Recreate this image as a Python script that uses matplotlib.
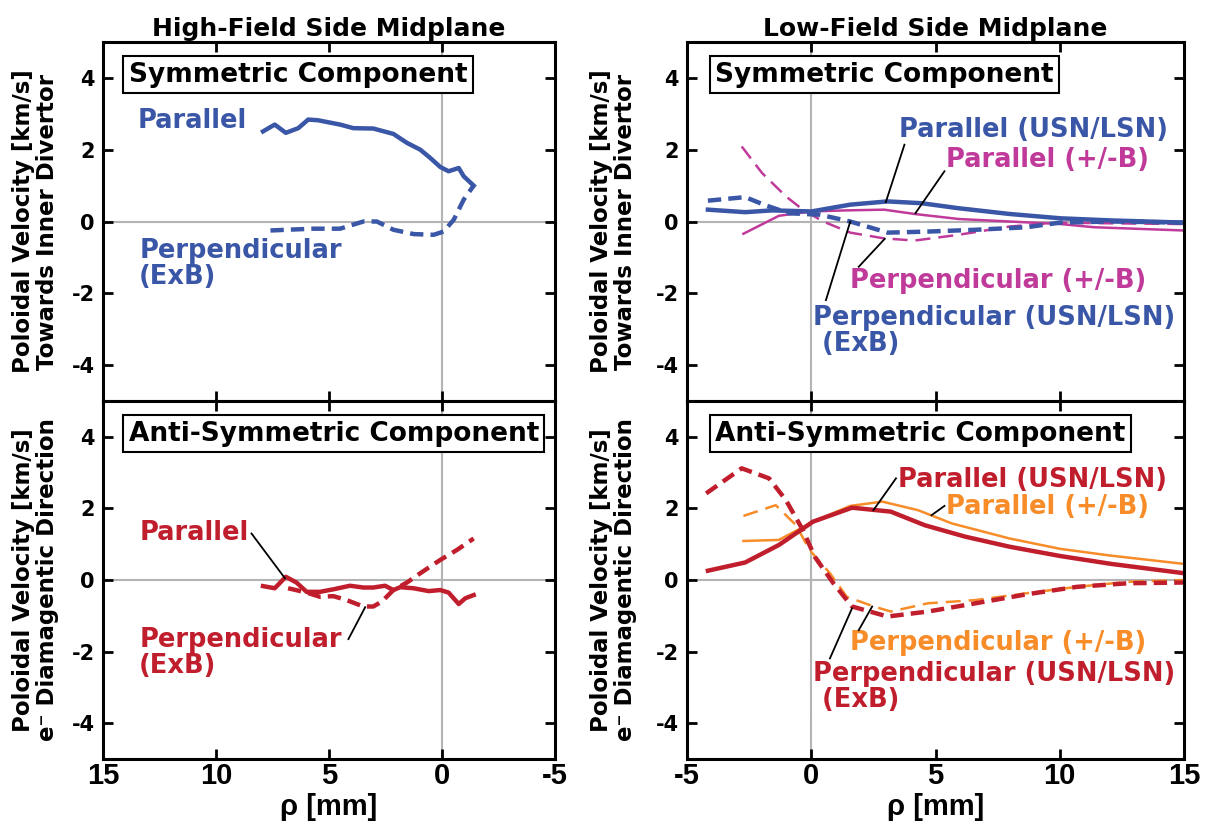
import matplotlib.pyplot as plt
from matplotlib import font_manager

# ---- data (rho in mm, poloidal velocity in km/s) ----
# High-field side midplane, symmetric component
hfs_sym_par_x = [7.92, 7.40, 6.91, 6.36, 5.92, 5.48, 4.51, 3.92, 3.04, 2.15, 1.55,
                 0.96, 0.52, 0.08, -0.29, -0.74, -0.96, -1.40]
hfs_sym_par_v = [2.51, 2.70, 2.47, 2.60, 2.84, 2.82, 2.70, 2.60, 2.59, 2.44, 2.19,
                 2.00, 1.77, 1.52, 1.40, 1.49, 1.26, 1.00]
hfs_sym_perp_x = [7.59, 6.88, 5.70, 4.51, 3.48, 2.88, 2.15, 1.26, 0.37, -0.07,
                  -0.52, -0.96, -1.40]
hfs_sym_perp_v = [-0.25, -0.23, -0.20, -0.20, 0.00, 0.00, -0.23, -0.35, -0.37, -0.28,
                  0.05, 0.61, 1.00]

# High-field side midplane, anti-symmetric component
hfs_anti_par_x = [7.92, 7.40, 6.91, 6.44, 5.99, 5.40, 4.81, 4.07, 3.48, 3.04, 2.52,
                  2.15, 1.85, 1.26, 0.59, 0.08, -0.29, -0.74, -1.03, -1.40]
hfs_anti_par_v = [-0.17, -0.23, 0.09, -0.07, -0.33, -0.33, -0.26, -0.16, -0.21, -0.21,
                  -0.16, -0.28, -0.20, -0.23, -0.31, -0.28, -0.35, -0.67, -0.51, -0.42]
hfs_anti_perp_x = [6.81, 5.99, 5.40, 4.81, 4.22, 3.48, 3.04, 2.66, 2.15, 1.55, 0.96,
                   0.08, -0.66, -1.40]
hfs_anti_perp_v = [-0.23, -0.35, -0.47, -0.45, -0.56, -0.74, -0.74, -0.60, -0.28, -0.07,
                   0.19, 0.56, 0.84, 1.16]

# Low-field side midplane, symmetric component
lfs_sym_par_x = [-4.16, -2.66, -1.57, 0.0, 1.57, 3.07, 4.43, 5.93, 7.98, 10.02, 12.07, 15.0]
lfs_sym_par_v = [0.33, 0.26, 0.31, 0.28, 0.47, 0.56, 0.51, 0.37, 0.21, 0.09, 0.03, -0.03]
lfs_sym_parB_x = [-2.73, -1.30, 0.0, 1.43, 2.93, 4.16, 5.93, 7.98, 10.02, 11.39, 15.0]
lfs_sym_parB_v = [-0.34, 0.16, 0.28, 0.31, 0.33, 0.21, 0.07, 0.00, -0.07, -0.16, -0.25]
lfs_sym_perp_x = [-4.16, -2.66, -1.84, -0.89, 0.34, 1.57, 3.07, 4.70, 6.61, 8.66,
                  10.02, 12.07, 15.0]
lfs_sym_perp_v = [0.58, 0.68, 0.45, 0.23, 0.19, 0.00, -0.31, -0.28, -0.23, -0.16,
                  -0.03, 0.00, -0.03]
lfs_sym_perpB_x = [-2.80, -1.98, -1.02, -0.34, 0.48, 1.57, 2.93, 4.16, 5.93, 7.98,
                   10.02, 12.07, 15.0]
lfs_sym_perpB_v = [2.09, 1.35, 0.70, 0.33, 0.00, -0.31, -0.47, -0.53, -0.37, -0.14,
                   -0.03, -0.05, -0.07]

# Low-field side midplane, anti-symmetric component
lfs_anti_par_x = [-4.16, -2.66, -1.30, 0.07, 1.64, 3.20, 4.57, 6.20, 7.98, 10.02, 12.07, 15.0]
lfs_anti_par_v = [0.26, 0.49, 0.98, 1.63, 2.02, 1.91, 1.53, 1.21, 0.93, 0.67, 0.45, 0.19]
lfs_anti_parB_x = [-2.73, -1.30, 0.07, 1.57, 2.86, 4.30, 5.66, 7.98, 10.02, 12.07, 15.0]
lfs_anti_parB_v = [1.09, 1.12, 1.63, 2.07, 2.19, 1.95, 1.58, 1.16, 0.87, 0.68, 0.45]
lfs_anti_perp_x = [-4.23, -2.80, -1.70, -1.02, -0.34, 0.14, 0.89, 1.64, 3.07, 4.70,
                   6.61, 8.66, 10.70, 12.75, 15.0]
lfs_anti_perp_v = [2.42, 3.12, 2.84, 2.23, 1.40, 0.65, -0.09, -0.74, -1.02, -0.88,
                   -0.65, -0.40, -0.19, -0.09, -0.07]
lfs_anti_perpB_x = [-2.73, -1.43, -0.61, -0.07, 0.75, 1.43, 2.52, 3.20, 4.70, 6.61,
                    8.66, 10.70, 12.75, 15.0]
lfs_anti_perpB_v = [1.79, 2.09, 1.53, 0.84, 0.19, -0.47, -0.74, -0.88, -0.65, -0.56,
                    -0.37, -0.19, -0.05, 0.00]

x_ticks = [-5, 0, 5, 10, 15]
y_ticks = [-4, -2, 0, 2, 4]

BLUE = '#3a56a6'
MAGENTA = '#c03a9a'
RED = '#c11e2d'
ORANGE = '#f78c28'
GRID = '#b4b4b4'

names = {f.name for f in font_manager.fontManager.ttflist}
XFONT = 'Liberation Sans' if 'Liberation Sans' in names else 'DejaVu Sans'
NARROW = 'Liberation Sans Narrow' if 'Liberation Sans Narrow' in names else XFONT
plt.rcParams['font.family'] = 'DejaVu Sans'

THICK = 3.2
THIN = 1.8
DASH_THICK = (0, (3.0, 1.6))
DASH_THIN = (0, (6.0, 3.2))


def style_axes(ax, xlim, bottom, ylabel, label_x):
    ax.set_xlim(xlim)
    ax.set_ylim(-5, 5)
    ax.axhline(0, color=GRID, lw=1.5, zorder=0)
    ax.axvline(0, color=GRID, lw=1.5, zorder=0)
    ax.set_yticks(y_ticks, labels=[str(t) for t in y_ticks],
                  fontsize=15, fontweight='bold')
    ax.set_xticks(x_ticks, labels=[str(t) for t in x_ticks],
                  fontsize=21, fontweight='bold', family=XFONT)
    ax.tick_params(direction='in', length=7, width=2, top=True, right=True)
    ax.tick_params(axis='y', pad=6)
    ax.tick_params(axis='x', pad=2)
    for sp in ax.spines.values():
        sp.set_linewidth(2.2)
    if not bottom:
        ax.tick_params(labelbottom=False)
    else:
        ax.set_xlabel('ρ [mm]', fontsize=21, fontweight='bold', family=NARROW, labelpad=2)
    ax.set_ylabel(ylabel, fontsize=16.5, fontweight='bold', va='center', linespacing=1.05)
    ax.yaxis.set_label_coords(label_x, 0.5)


def box_label(ax, text):
    ax.text(0.057, 0.945, text, transform=ax.transAxes, ha='left', va='top',
            fontsize=19, fontweight='bold',
            bbox=dict(boxstyle='square,pad=0.2', fc='white', ec='black', lw=1.5))


def note(ax, text, pos, color, leader=None, white=False):
    kw = dict(fontsize=18.5, fontweight='bold', color=color, ha='left', va='center',
              linespacing=1.0, zorder=5)
    if white:
        kw['bbox'] = dict(boxstyle='square,pad=0.05', fc='white', ec='none')
    ax.text(pos[0], pos[1], text, **kw)
    if leader is not None:
        (x1, y1), (x2, y2) = leader
        ax.plot([x1, x2], [y1, y2], color='k', lw=1.3, zorder=6)


fig = plt.figure(figsize=(12.1, 8.27), dpi=100)
ax_hs = fig.add_axes([0.0851, 0.5151, 0.3736, 0.4341])
ax_ha = fig.add_axes([0.0851, 0.0822, 0.3736, 0.4329])
ax_ls = fig.add_axes([0.5678, 0.5151, 0.4107, 0.4341])
ax_la = fig.add_axes([0.5678, 0.0822, 0.4107, 0.4329])

sym_label = 'Poloidal Velocity [km/s]\nTowards Inner Divertor'
anti_label = 'Poloidal Velocity [km/s]\ne\u207b Diamagentic Direction'

# High-field side, symmetric
style_axes(ax_hs, (15, -5), False, sym_label, -0.150)
ax_hs.set_title('High-Field Side Midplane', fontsize=18, fontweight='bold', pad=4)
ax_hs.plot(hfs_sym_par_x, hfs_sym_par_v, color=BLUE, lw=THICK)
ax_hs.plot(hfs_sym_perp_x, hfs_sym_perp_v, color=BLUE, lw=THICK, ls=DASH_THICK)
box_label(ax_hs, 'Symmetric Component')
note(ax_hs, 'Parallel', (13.47, 2.79), BLUE)
note(ax_hs, 'Perpendicular\n(ExB)', (13.4, -1.18), BLUE)

# High-field side, anti-symmetric
style_axes(ax_ha, (15, -5), True, anti_label, -0.150)
ax_ha.plot(hfs_anti_par_x, hfs_anti_par_v, color=RED, lw=THICK)
ax_ha.plot(hfs_anti_perp_x, hfs_anti_perp_v, color=RED, lw=THICK, ls=DASH_THICK)
box_label(ax_ha, 'Anti-Symmetric Component')
note(ax_ha, 'Parallel', (13.4, 1.30), RED, leader=((8.43, 1.30), (6.95, 0.05)))
note(ax_ha, 'Perpendicular\n(ExB)', (13.4, -2.05), RED, leader=((4.14, -1.65), (3.40, -0.76)))

# Low-field side, symmetric
style_axes(ax_ls, (-5, 15), False, sym_label, -0.148)
ax_ls.set_title('Low-Field Side Midplane', fontsize=18, fontweight='bold', pad=4)
ax_ls.plot(lfs_sym_parB_x, lfs_sym_parB_v, color=MAGENTA, lw=THIN)
ax_ls.plot(lfs_sym_perpB_x, lfs_sym_perpB_v, color=MAGENTA, lw=THIN, ls=DASH_THIN)
ax_ls.plot(lfs_sym_par_x, lfs_sym_par_v, color=BLUE, lw=THICK)
ax_ls.plot(lfs_sym_perp_x, lfs_sym_perp_v, color=BLUE, lw=THICK, ls=DASH_THICK)
box_label(ax_ls, 'Symmetric Component')
note(ax_ls, 'Parallel (USN/LSN)', (3.55, 2.54), BLUE, leader=((3.75, 2.14), (3.0, 0.54)))
note(ax_ls, 'Parallel (+/-B)', (5.41, 1.72), MAGENTA, leader=((5.36, 1.40), (4.19, 0.23)))
note(ax_ls, 'Perpendicular (+/-B)', (1.57, -1.67), MAGENTA,
     leader=((1.91, -1.26), (2.96, -0.48)))
note(ax_ls, 'Perpendicular (USN/LSN)\n (ExB)', (0.07, -3.05), BLUE,
     leader=((0.59, -2.19), (1.57, 0.0)), white=True)

# Low-field side, anti-symmetric
style_axes(ax_la, (-5, 15), True, anti_label, -0.148)
ax_la.plot(lfs_anti_parB_x, lfs_anti_parB_v, color=ORANGE, lw=THIN)
ax_la.plot(lfs_anti_perpB_x, lfs_anti_perpB_v, color=ORANGE, lw=THIN, ls=DASH_THIN)
ax_la.plot(lfs_anti_par_x, lfs_anti_par_v, color=RED, lw=THICK)
ax_la.plot(lfs_anti_perp_x, lfs_anti_perp_v, color=RED, lw=THICK, ls=DASH_THICK)
box_label(ax_la, 'Anti-Symmetric Component')
note(ax_la, 'Parallel (USN/LSN)', (3.48, 2.79), RED, leader=((3.41, 2.84), (2.50, 1.95)))
note(ax_la, 'Parallel (+/-B)', (5.41, 2.03), ORANGE, leader=((5.36, 2.07), (4.84, 1.81)))
note(ax_la, 'Perpendicular (+/-B)', (1.57, -1.77), ORANGE,
     leader=((1.91, -1.40), (2.45, -0.74)))
note(ax_la, 'Perpendicular (USN/LSN)\n (ExB)', (0.07, -3.0), RED,
     leader=((0.75, -2.19), (1.64, -0.79)), white=True)

fig.savefig('out.png', dpi=100)
